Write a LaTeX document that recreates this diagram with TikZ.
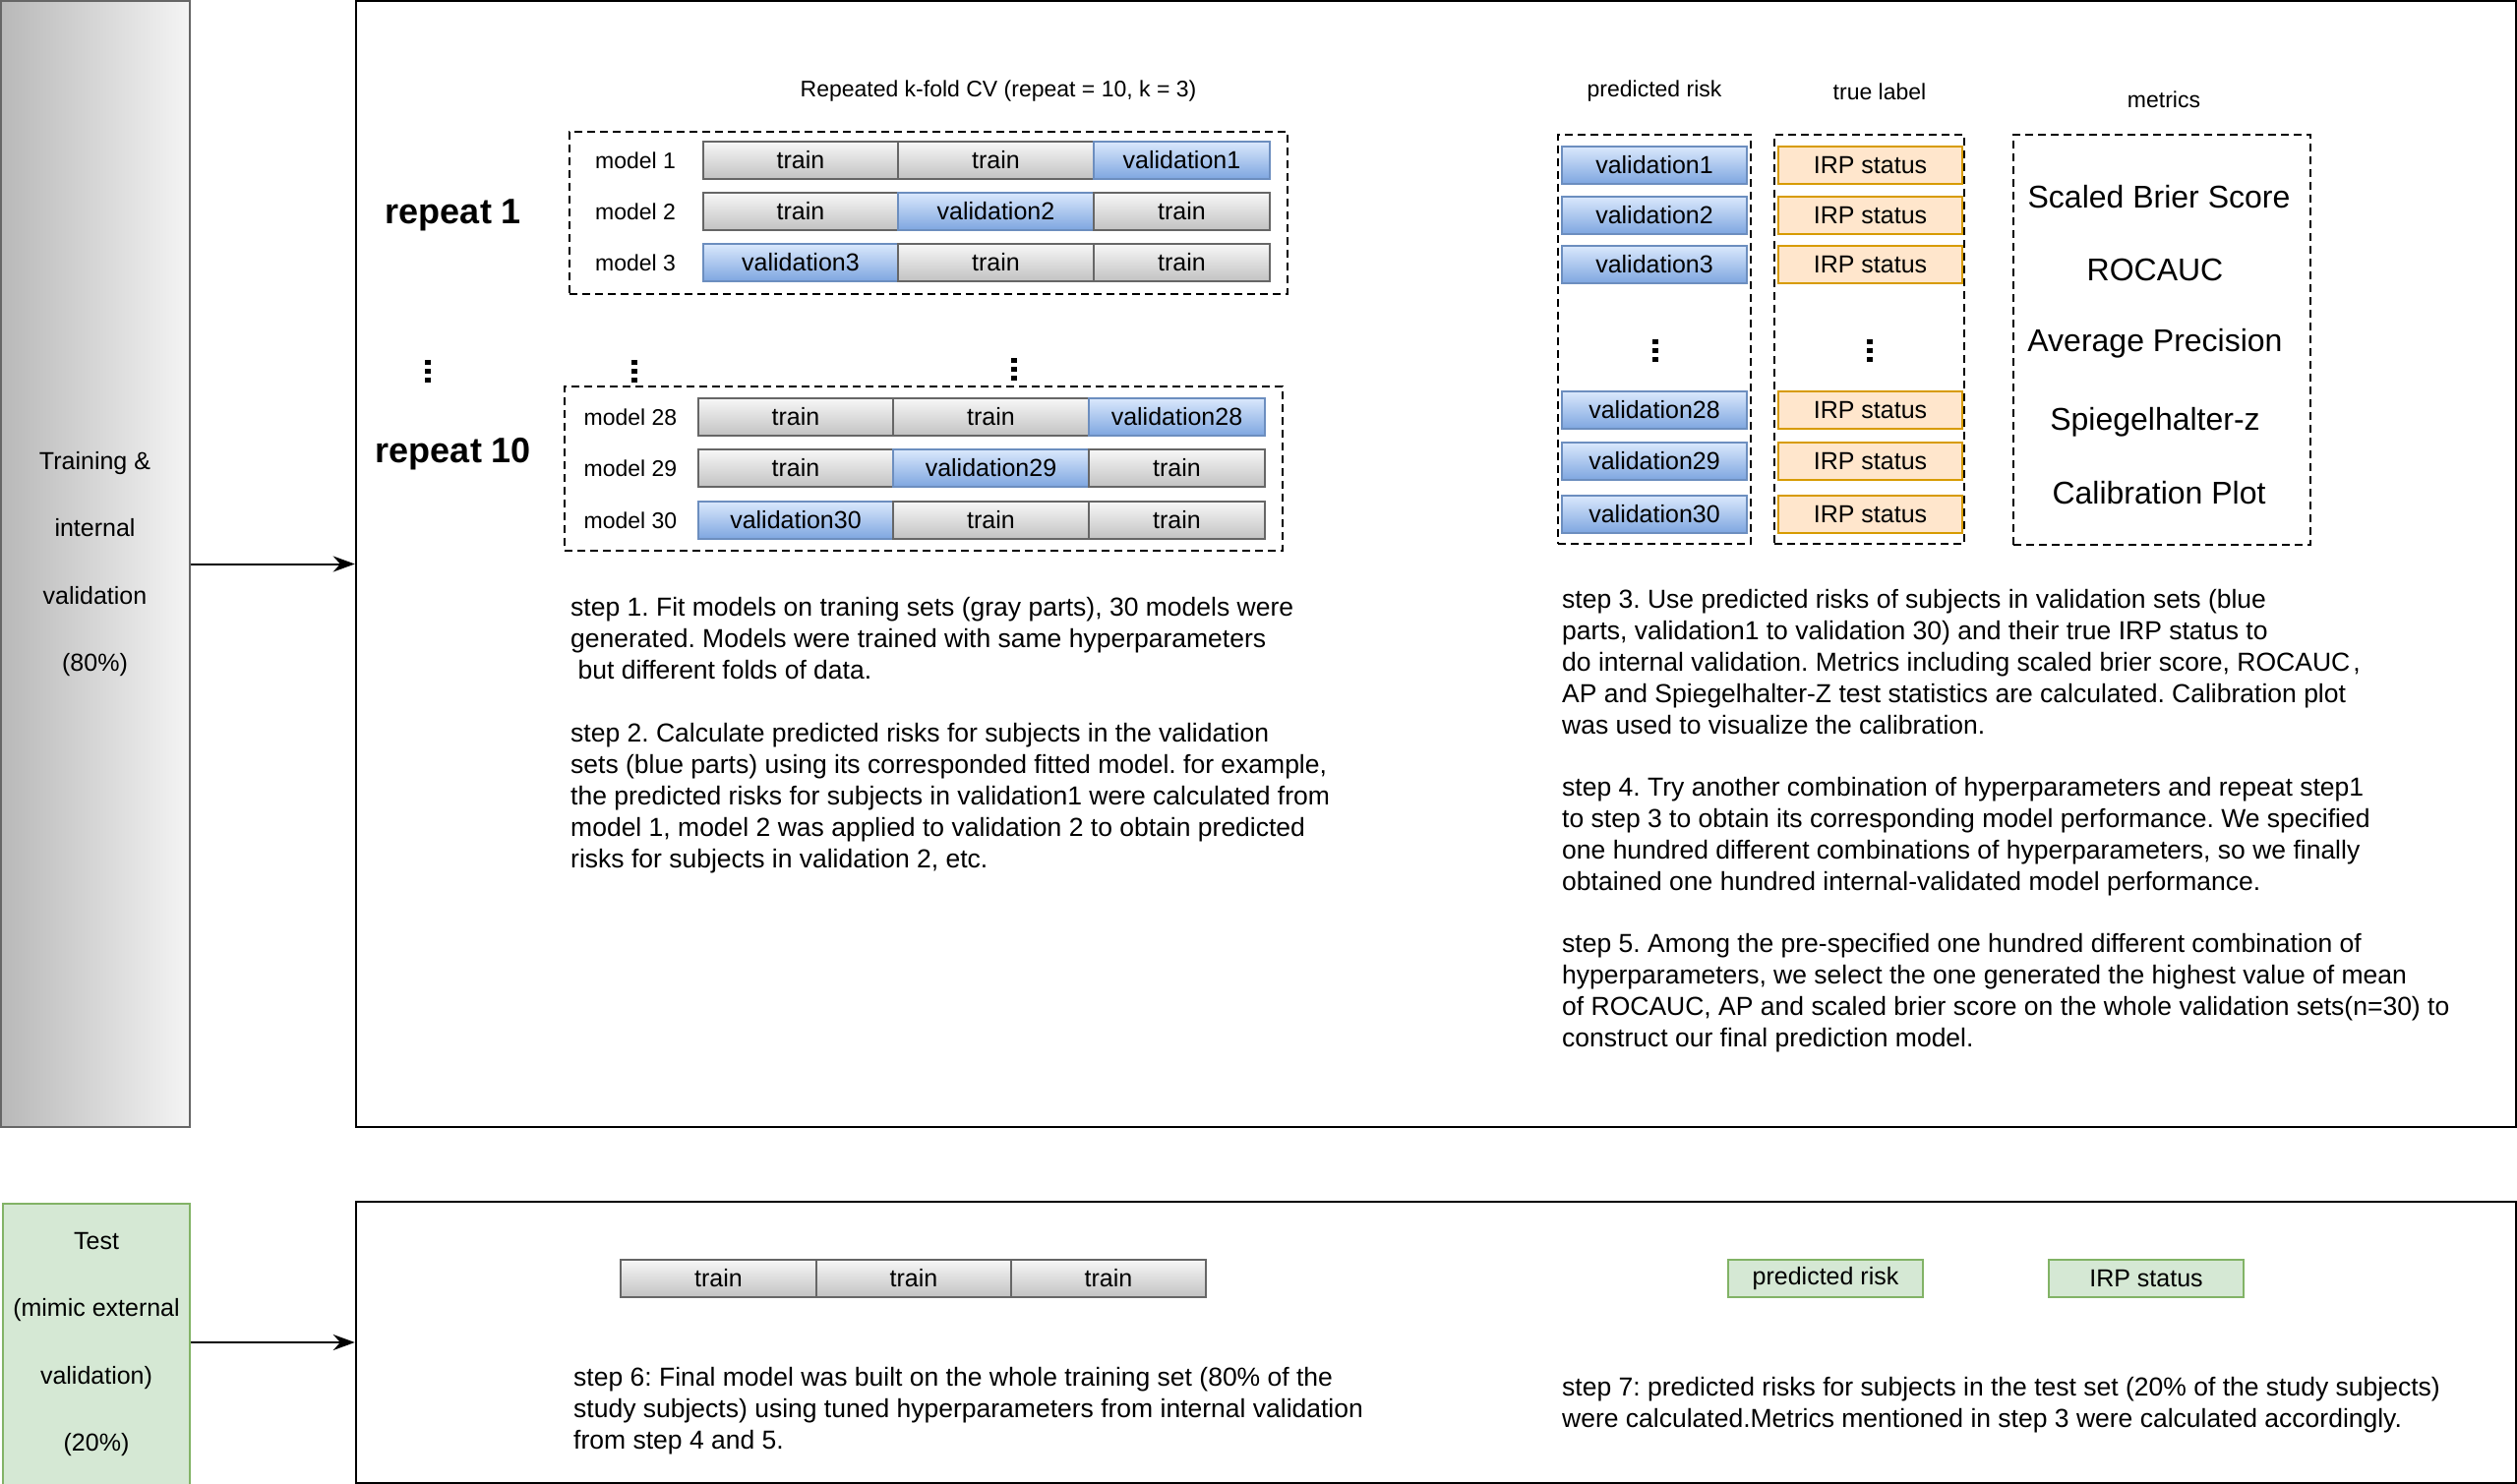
\documentclass[tikz,border=0pt]{standalone}
\usepackage{fontspec}
\setmainfont{Liberation Sans}
\usetikzlibrary{arrows.meta}
\definecolor{gbord}{HTML}{666666}
\definecolor{gtop}{HTML}{F7F7F7}
\definecolor{gbot}{HTML}{C2C2C2}
\definecolor{btop}{HTML}{DAE8FC}
\definecolor{bbot}{HTML}{7EA6E0}
\definecolor{bbord}{HTML}{6C8EBF}
\definecolor{ofill}{HTML}{FFE6CC}
\definecolor{obord}{HTML}{D79B00}
\definecolor{grfill}{HTML}{D5E8D4}
\definecolor{grbord}{HTML}{82B366}
\definecolor{lleft}{HTML}{B8B8B8}
\definecolor{lright}{HTML}{F4F4F4}
\frenchspacing
\begin{document}
\begin{tikzpicture}[x=1pt,y=-1pt,
  cell/.style={inner sep=0pt, minimum height=38pt, line width=1.8pt, font=\fontsize{25}{30}\selectfont},
  trn/.style={cell, draw=gbord, top color=gtop, bottom color=gbot},
  val/.style={cell, draw=bbord, top color=btop, bottom color=bbot},
  irp/.style={cell, draw=obord, fill=ofill, minimum width=187pt},
  grn/.style={cell, draw=grbord, fill=grfill},
  dbox/.style={draw, dash pattern=on 8pt off 5pt, line width=2.2pt, inner sep=0pt},
  mlab/.style={font=\fontsize{23}{28}\selectfont, inner sep=0pt},
  head/.style={font=\fontsize{23}{28}\selectfont, inner sep=0pt},
  rep/.style={font=\bfseries\fontsize{36}{43}\selectfont, inner sep=0pt},
  metric/.style={font=\fontsize{32}{38}\selectfont, inner sep=0pt},
  para/.style={font=\fontsize{26.5}{32}\selectfont, align=left, inner sep=0pt, anchor=north west},
  frame/.style={draw, line width=2.5pt, inner sep=0pt},
  conn/.style={line width=2pt, -{Stealth[length=22pt,width=16pt]}},
  vdotpic/.pic={\fill (-2.6,-11.5) rectangle (2.6,-6.5); \fill (-2.6,-2.5) rectangle (2.6,2.5); \fill (-2.6,6.5) rectangle (2.6,11.5);}
]
\useasboundingbox (0,0) rectangle (2559,1509);

% left side boxes
\node[draw=gbord, line width=2pt, left color=lleft, right color=lright, minimum width=192pt, minimum height=1145pt, inner sep=0pt, align=center, font=\fontsize{25}{68.5}\selectfont] (trainbox) at (96.5,573.5) {Training \&\\internal\\validation\\(80\%)};
\node[draw=grbord, line width=2pt, fill=grfill, minimum width=190pt, minimum height=286pt, inner sep=0pt, align=center, font=\fontsize{25}{68.5}\selectfont] (testbox) at (98,1367) {Test\\(mimic external\\validation)\\(20\%)};

% main frames
\node[frame, minimum width=2196pt, minimum height=1145pt] (mainbox) at (1460,573.5) {};
\node[frame, minimum width=2196pt, minimum height=286pt] (bottombox) at (1460,1365) {};

\draw[conn] (trainbox.east) -- (mainbox.west);
\draw[conn] (testbox.east |- bottombox.west) -- (bottombox.west);

% repeated k-fold
\node[head] (cvtitle) at (1015,93) {Repeated k-fold CV (repeat = 10, k = 3)};
\node[dbox, minimum width=730pt, minimum height=165pt] (rep1box) at (944,216.5) {};
\node[dbox, minimum width=730pt, minimum height=167pt] (rep10box) at (939,476.5) {};
\node[rep] (rep1) at (461,219) {repeat 1};
\node[rep] (rep10) at (461,462) {repeat 10};

\node[mlab] (ml1) at (646,163) {model 1};
\node[mlab] (ml2) at (646,215) {model 2};
\node[mlab] (ml3) at (646,267) {model 3};
\node[trn, minimum width=198pt] (b11) at (814,163) {train};
\node[trn, minimum width=199pt] (b12) at (1012.5,163) {train};
\node[val, minimum width=179pt] (b13) at (1201.5,163) {validation1};
\node[trn, minimum width=198pt] (b21) at (814,215) {train};
\node[val, minimum width=199pt] (b22) at (1012.5,215) {validation2};
\node[trn, minimum width=179pt] (b23) at (1201.5,215) {train};
\node[val, minimum width=198pt] (b31) at (814,267) {validation3};
\node[trn, minimum width=199pt] (b32) at (1012.5,267) {train};
\node[trn, minimum width=179pt] (b33) at (1201.5,267) {train};

\node[mlab] (ml28) at (641,424) {model 28};
\node[mlab] (ml29) at (641,476) {model 29};
\node[mlab] (ml30) at (641,529) {model 30};
\node[trn, minimum width=198pt] (c11) at (809,424) {train};
\node[trn, minimum width=199pt] (c12) at (1007.5,424) {train};
\node[val, minimum width=179pt] (c13) at (1196.5,424) {validation28};
\node[trn, minimum width=198pt] (c21) at (809,476) {train};
\node[val, minimum width=199pt] (c22) at (1007.5,476) {validation29};
\node[trn, minimum width=179pt] (c23) at (1196.5,476) {train};
\node[val, minimum width=198pt] (c31) at (809,529) {validation30};
\node[trn, minimum width=199pt] (c32) at (1007.5,529) {train};
\node[trn, minimum width=179pt] (c33) at (1196.5,529) {train};

\pic at (435,377) {vdotpic};
\pic at (645,377) {vdotpic};
\pic at (1031,375) {vdotpic};

% step texts left
\node[para] (step1) at (580,607) {step 1. Fit models on traning sets (gray parts), 30 models were\\generated. Models were trained with same hyperparameters\\\hspace*{0.28em}but different folds of data.};
\node[para] (step2) at (580,735) {step 2. Calculate predicted risks for subjects in the validation\\sets (blue parts) using its corresponded fitted model. for example,\\the predicted risks for subjects in validation1 were calculated from\\model 1, model 2 was applied to validation 2 to obtain predicted\\risks for subjects in validation 2, etc.};

% right columns
\node[head] (hpred) at (1682,93) {predicted risk};
\node[head] (htrue) at (1911,93) {true label};
\node[head] (hmet) at (2200,101) {metrics};
\node[dbox, minimum width=196pt, minimum height=416pt] (predbox) at (1682,345) {};
\node[dbox, minimum width=193pt, minimum height=416pt] (truebox) at (1900.5,345) {};
\node[dbox, minimum width=302pt, minimum height=417pt] (metbox) at (2198,345.5) {};

\node[val, minimum width=188pt] (p1) at (1682,168) {validation1};
\node[val, minimum width=188pt] (p2) at (1682,219) {validation2};
\node[val, minimum width=188pt] (p3) at (1682,269) {validation3};
\node[val, minimum width=188pt] (p28) at (1682,417) {validation28};
\node[val, minimum width=188pt] (p29) at (1682,469) {validation29};
\node[val, minimum width=188pt] (p30) at (1682,523) {validation30};
\node[irp] (t1) at (1901.5,168) {IRP status};
\node[irp] (t2) at (1901.5,219) {IRP status};
\node[irp] (t3) at (1901.5,269) {IRP status};
\node[irp] (t28) at (1901.5,417) {IRP status};
\node[irp] (t29) at (1901.5,469) {IRP status};
\node[irp] (t30) at (1901.5,523) {IRP status};
\pic at (1683,356) {vdotpic};
\pic at (1901,356) {vdotpic};

\node[metric] (m1) at (2195,200) {Scaled Brier Score};
\node[metric] (m2) at (2191,274) {ROCAUC};
\node[metric] (m3) at (2191,349) {Average Precision};
\node[metric] (m4) at (2191,429) {Spiegelhalter-z};
\node[metric] (m5) at (2195,501) {Calibration Plot};

\node[para] (step3) at (1588,599) {step 3. Use predicted risks of subjects in validation sets (blue\\parts, validation1 to validation 30) and their true IRP status to\\do internal validation. Metrics including scaled brier score, ROCAUC\hspace{0.12em},\\AP and Spiegelhalter-Z test statistics are calculated. Calibration plot\\was used to visualize the calibration.};
\node[para] (step4) at (1588,790) {step 4. Try another combination of hyperparameters and repeat step1\\to step 3 to obtain its corresponding model performance. We specified\\one hundred different combinations of hyperparameters, so we finally\\obtained one hundred internal-validated model performance.};
\node[para] (step5) at (1588,949) {step 5. Among the pre-specified one hundred different combination of\\hyperparameters, we select the one generated the highest value of mean\\of ROCAUC, AP and scaled brier score on the whole validation sets(n=30) to\\construct our final prediction model.};

% bottom section
\node[trn, minimum width=199pt] (f1) at (730.5,1300) {train};
\node[trn, minimum width=198pt] (f2) at (929,1300) {train};
\node[trn, minimum width=198pt] (f3) at (1127,1300) {train};
\node[grn, minimum width=198pt] (gp) at (1856,1300) {predicted risk};
\node[grn, minimum width=198pt] (gi) at (2182,1300) {IRP status};

\node[para] (step6) at (583,1390) {step 6: Final model was built on the whole training set (80\% of the\\study subjects) using tuned hyperparameters from internal validation\\from step 4 and 5.};
\node[para] (step7) at (1588,1400) {step 7: predicted risks for subjects in the test set (20\% of the study subjects)\\were calculated.Metrics mentioned in step 3 were calculated accordingly.};
\end{tikzpicture}
\end{document}
